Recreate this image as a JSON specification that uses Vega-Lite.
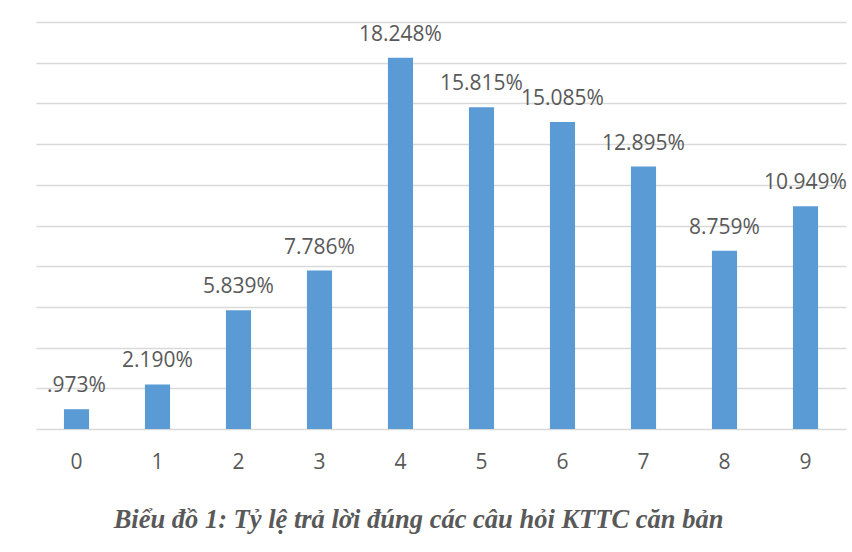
{
  "$schema": "https://vega.github.io/schema/vega-lite/v6.json",
  "width": 810,
  "height": 407,
  "autosize": {"type": "none"},
  "padding": {"left": 36, "top": 22, "right": 6, "bottom": 123},
  "background": "white",
  "data": {
    "values": [
      {"k": "0", "v": 0.973, "label": ".973%"},
      {"k": "1", "v": 2.190, "label": "2.190%"},
      {"k": "2", "v": 5.839, "label": "5.839%"},
      {"k": "3", "v": 7.786, "label": "7.786%"},
      {"k": "4", "v": 18.248, "label": "18.248%"},
      {"k": "5", "v": 15.815, "label": "15.815%"},
      {"k": "6", "v": 15.085, "label": "15.085%"},
      {"k": "7", "v": 12.895, "label": "12.895%"},
      {"k": "8", "v": 8.759, "label": "8.759%"},
      {"k": "9", "v": 10.949, "label": "10.949%"}
    ]
  },
  "encoding": {
    "x": {
      "field": "k",
      "type": "nominal",
      "sort": null,
      "scale": {"paddingInner": 0.69, "paddingOuter": 0.345},
      "axis": {
        "title": "Biểu đồ 1: Tỷ lệ trả lời đúng các câu hỏi KTTC căn bản",
        "titleFont": "Liberation Serif",
        "titleFontSize": 26.5,
        "titleFontWeight": "bold",
        "titleFontStyle": "italic",
        "titleColor": "#595959",
        "titleBaseline": "alphabetic",
        "titleAnchor": "start",
        "titleAlign": "center",
        "titleX": 382,
        "titleY": 98,
        "labelAngle": 0,
        "labelFont": "Open Sans",
        "labelFontSize": 21,
        "labelColor": "#595959",
        "labelBaseline": "alphabetic",
        "labelPadding": 39,
        "ticks": false,
        "domain": false,
        "grid": false
      }
    },
    "y": {
      "field": "v",
      "type": "quantitative",
      "scale": {"domain": [0, 20], "nice": false},
      "axis": {
        "title": null,
        "labels": false,
        "ticks": false,
        "domain": false,
        "values": [0, 2, 4, 6, 8, 10, 12, 14, 16, 18, 20],
        "gridColor": "#d9d9d9",
        "gridWidth": 1.5
      }
    }
  },
  "layer": [
    {"mark": {"type": "bar", "color": "#5b9bd5"}},
    {
      "mark": {
        "type": "text",
        "font": "Open Sans",
        "fontSize": 21,
        "color": "#595959",
        "baseline": "alphabetic",
        "dy": -17
      },
      "encoding": {"text": {"field": "label"}}
    }
  ],
  "config": {"view": {"stroke": null}}
}
